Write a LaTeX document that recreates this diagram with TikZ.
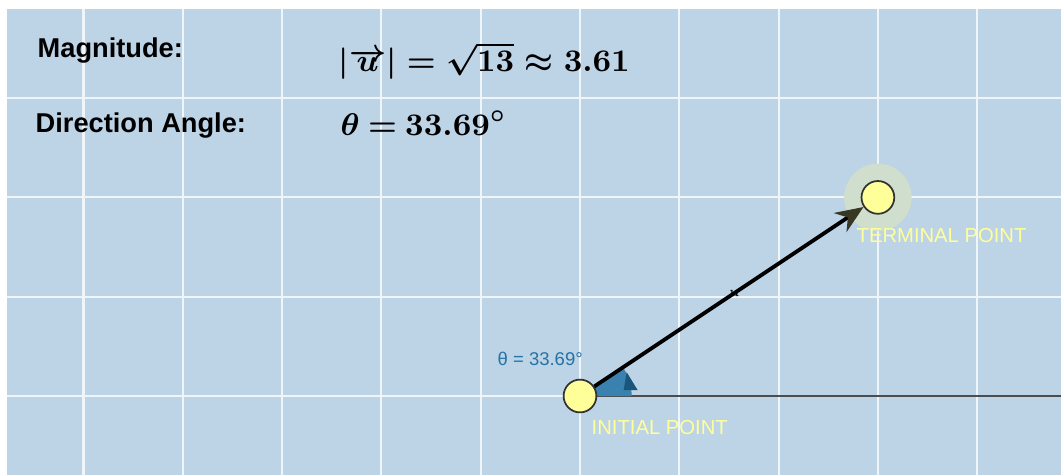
\documentclass[tikz,border=0pt]{standalone}
\usepackage{fontspec}
\setsansfont{Liberation Sans}
\usetikzlibrary{arrows.meta}
\definecolor{paper}{RGB}{189,211,230}
\definecolor{gridline}{RGB}{240,245,250}
\definecolor{pointfill}{RGB}{255,255,153}
\definecolor{anglecol}{RGB}{35,115,165}
\definecolor{halo}{RGB}{208,222,205}
\definecolor{tipcol}{RGB}{55,55,35}
\begin{document}
\begin{tikzpicture}
  [pt/.style={circle,fill=pointfill,draw=black!80,line width=0.5pt,minimum size=0.33cm,inner sep=0pt},
   caption/.style={font=\sffamily\bfseries\fontsize{7.8}{9}\selectfont,anchor=base west,inner sep=0pt},
   formula/.style={font=\fontsize{9.4}{11}\selectfont\boldmath,anchor=base west,inner sep=0pt},
   ptlabel/.style={font=\sffamily\fontsize{5.8}{7}\selectfont,text=pointfill,anchor=base west,inner sep=0pt}]
  \useasboundingbox (-5.841,-0.796) rectangle (4.844,3.988);

  % Fondo y cuadricula
  \fill[paper] (-5.770,-0.796) rectangle (4.844,3.897);
  \foreach \x in {-5,...,4}
    \draw[gridline,line width=0.6pt] (\x,-0.796) -- (\x,3.897);
  \foreach \y in {0,...,3}
    \draw[gridline,line width=0.6pt] (-5.770,\y) -- (4.844,\y);

  % Eje horizontal desde el punto inicial
  \coordinate (far) at (4.844,0);
  \draw[black!70,line width=0.6pt] (0,0) -- (far);

  % Angulo
  \fill[anglecol!90!white] (0,0) -- (0.52,0) arc (0:33.69:0.52) -- cycle;
  \fill[anglecol!75!black] (0.44,0.06) -- (0.47,0.24) -- (0.58,0.06) -- cycle;

  % Puntos
  \fill[halo] (3,2) circle (0.34);
  \node[pt] (init) at (0,0) {};
  \node[pt] (term) at (3,2) {};

  % Vector u
  \draw[black,line width=1.1pt,-{Stealth[length=8pt,width=6.5pt,color=tipcol]}] (init) -- (term)
    node[pos=0.52,font=\fontsize{4}{4}\selectfont,inner sep=0pt,text=black] (ulab) {u};

  % Etiquetas
  \node[caption] (mag) at (-5.468,3.404) {Magnitude:};
  \node[caption] (dir) at (-5.488,2.649) {Direction Angle:};
  \node[formula] (magval) at (-2.437,3.263) {$|\overrightarrow{u}| = \sqrt{13} \approx 3.61$};
  \node[formula,font=\fontsize{8.8}{11}\selectfont\boldmath] (dirval) at (-2.417,2.628)
    {$\thickmuskip=4mu \theta = 33.69^\circ$};
  \node[font=\sffamily\fontsize{5.3}{6}\selectfont,text=anglecol,anchor=base west,inner sep=0pt] (anglab) at (-0.836,0.312) {θ = 33.69°};
  \node[ptlabel] (initlab) at (0.111,-0.383) {INITIAL POINT};
  \node[ptlabel] (termlab) at (2.779,1.541) {TERMINAL POINT};
\end{tikzpicture}
\end{document}
